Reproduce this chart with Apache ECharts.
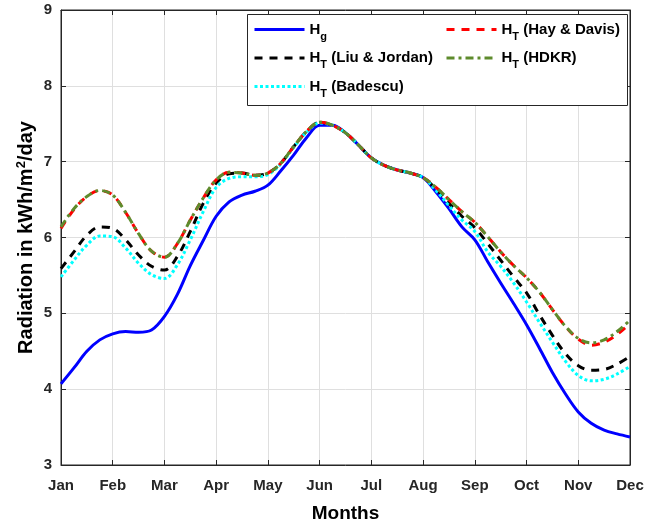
<!DOCTYPE html>
<html><head><meta charset="utf-8">
<script src="https://cdn.jsdelivr.net/npm/echarts@6/dist/echarts.min.js"></script>
<style>html,body{margin:0;padding:0;background:#fff}#c{width:660px;height:523px}</style>
</head><body><div id="c"></div>
<script>
const months = ['Jan','Feb','Mar','Apr','May','Jun','Jul','Aug','Sep','Oct','Nov','Dec'];
const xPos = [1,1.25,1.5,1.75,2,2.25,2.5,2.75,3,3.25,3.5,3.75,4,4.25,4.5,4.75,5,5.25,5.5,5.75,6,6.25,6.5,6.75,7,7.25,7.5,7.75,8,8.25,8.5,8.75,9,9.25,9.5,9.75,10,10.25,10.5,10.75,11,11.25,11.5,11.75,12];
const hg = [4.07,4.28,4.50,4.65,4.73,4.76,4.75,4.78,4.96,5.25,5.63,5.96,6.28,6.47,6.56,6.61,6.69,6.88,7.09,7.32,7.48,7.48,7.38,7.22,7.05,6.95,6.89,6.85,6.79,6.60,6.38,6.14,5.97,5.68,5.40,5.13,4.85,4.54,4.22,3.94,3.70,3.55,3.46,3.41,3.37];
const htLiuJordan = [5.59,5.81,6.03,6.14,6.12,5.97,5.77,5.62,5.57,5.75,6.08,6.45,6.72,6.84,6.85,6.82,6.85,6.98,7.20,7.40,7.52,7.48,7.38,7.22,7.05,6.95,6.89,6.85,6.79,6.64,6.45,6.28,6.13,5.92,5.70,5.48,5.27,4.98,4.71,4.47,4.31,4.25,4.26,4.33,4.43];
const htBadescu = [5.48,5.70,5.90,6.02,6.01,5.86,5.66,5.51,5.46,5.64,5.97,6.34,6.66,6.78,6.80,6.80,6.83,6.97,7.19,7.39,7.51,7.48,7.38,7.22,7.05,6.95,6.89,6.85,6.79,6.62,6.42,6.23,6.08,5.81,5.62,5.40,5.15,4.88,4.62,4.37,4.18,4.11,4.13,4.20,4.30];
const htHayDavis = [6.12,6.37,6.54,6.62,6.56,6.33,6.05,5.82,5.74,5.92,6.23,6.52,6.76,6.86,6.85,6.82,6.85,6.98,7.20,7.40,7.52,7.48,7.38,7.22,7.05,6.95,6.89,6.85,6.79,6.66,6.50,6.34,6.20,6.01,5.81,5.63,5.47,5.28,5.05,4.83,4.66,4.58,4.62,4.72,4.87];
const htHDKR = [6.14,6.38,6.54,6.62,6.56,6.33,6.05,5.82,5.74,5.92,6.23,6.52,6.76,6.86,6.85,6.82,6.85,6.98,7.20,7.40,7.52,7.48,7.38,7.22,7.05,6.95,6.89,6.85,6.79,6.66,6.50,6.34,6.20,6.01,5.81,5.63,5.47,5.28,5.05,4.83,4.67,4.61,4.65,4.76,4.91];
const yTicks = [3,4,5,6,7,8,9];
const seriesNames = ['Hg','HT (Liu & Jordan)','HT (Badescu)','HT (Hay & Davis)','HT (HDKR)'];
const legendRich = {
  'Hg': '{b|H}{s|g}',
  'HT (Liu & Jordan)': '{b|H}{s|T}{b| (Liu & Jordan)}',
  'HT (Badescu)': '{b|H}{s|T}{b| (Badescu)}',
  'HT (Hay & Davis)': '{b|H}{s|T}{b| (Hay & Davis)}',
  'HT (HDKR)': '{b|H}{s|T}{b| (HDKR)}'
};

const FONT = '"Liberation Sans", Arial, Helvetica, sans-serif';
const pair = ys => xPos.map((x, i) => [x, ys[i]]);
const rich = {
  b: {fontFamily: FONT, fontWeight: 'bold', fontSize: 15, color: '#000', verticalAlign: 'middle'},
  s: {fontFamily: FONT, fontWeight: 'bold', fontSize: 11, color: '#000', padding: [14, 0, 0, 0]}
};
const legendBase = {
  orient: 'vertical', itemWidth: 50, itemHeight: 14, itemGap: 8.5, selectedMode: false, padding: 0,
  itemStyle: {opacity: 0, borderWidth: 0}, lineStyle: {width: 3},
  formatter: n => legendRich[n], textStyle: {rich: rich}, z: 10
};
const axisCol = '#262626';
const mkLine = (name, data, color, type, z) => ({
  name, type: 'line', data: pair(data), smooth: 0.35, symbol: 'none', z,
  lineStyle: {color, width: 3, type}, itemStyle: {color}
});

const chart = echarts.init(document.getElementById('c'));
chart.setOption({
  animation: false,
  backgroundColor: '#fff',
  grid: {left: 61, right: 30, top: 10, bottom: 58, outerBoundsMode: 'none', show: true, borderColor: axisCol, borderWidth: 1},
  xAxis: [{
    type: 'value', min: 1, max: 12, interval: 1,
    name: 'Months', nameLocation: 'middle', nameGap: 39, nameMoveOverlap: false,
    nameTextStyle: {fontFamily: FONT, fontWeight: 'bold', fontSize: 19, color: '#000'},
    axisLine: {lineStyle: {color: axisCol}}, axisTick: {inside: true, length: 5, lineStyle: {color: axisCol}},
    axisLabel: {formatter: v => months[Math.round(v) - 1], fontFamily: FONT, fontWeight: 'bold', fontSize: 15, color: axisCol, margin: 13},
    splitLine: {show: true, lineStyle: {color: '#dfdfdf', width: 1}}
  }, {
    type: 'value', min: 1, max: 12, interval: 1, position: 'top',
    axisLine: {lineStyle: {color: axisCol}}, axisTick: {inside: true, length: 5, lineStyle: {color: axisCol}},
    axisLabel: {show: false}, splitLine: {show: false}
  }],
  yAxis: [{
    type: 'value', min: yTicks[0], max: yTicks[yTicks.length - 1], interval: 1,
    name: 'Radiation in kWh/m{sup|2}/day', nameLocation: 'middle', nameGap: 23, nameMoveOverlap: false,
    nameTextStyle: {fontFamily: FONT, fontWeight: 'bold', fontSize: 20, color: '#000',
      rich: {sup: {fontFamily: FONT, fontWeight: 'bold', fontSize: 13, color: '#000', padding: [0, 0, 10, 0]}}},
    axisLine: {show: true, lineStyle: {color: axisCol}}, axisTick: {show: true, inside: true, length: 5, lineStyle: {color: axisCol}},
    axisLabel: {fontFamily: FONT, fontWeight: 'bold', fontSize: 15, color: axisCol, margin: 9},
    splitLine: {show: true, lineStyle: {color: '#dfdfdf', width: 1}}
  }, {
    type: 'value', min: yTicks[0], max: yTicks[yTicks.length - 1], interval: 1, position: 'right',
    axisLine: {show: true, lineStyle: {color: axisCol}}, axisTick: {show: true, inside: true, length: 5, lineStyle: {color: axisCol}},
    axisLabel: {show: false}, splitLine: {show: false}
  }],
  graphic: [{
    type: 'rect', left: 247, top: 14, z: 8,
    shape: {width: 380, height: 91},
    style: {fill: '#fff', stroke: axisCol, lineWidth: 1}
  }],
  legend: [
    Object.assign({}, legendBase, {data: [seriesNames[0], seriesNames[1], seriesNames[2]], left: 253, top: 22}),
    Object.assign({}, legendBase, {data: [seriesNames[3], seriesNames[4]], left: 445, top: 22})
  ],
  series: [
    mkLine(seriesNames[0], hg, '#0000ff', 'solid', 2),
    mkLine(seriesNames[1], htLiuJordan, '#000000', [8, 7], 3),
    mkLine(seriesNames[2], htBadescu, '#00ffff', [3, 2.5], 4),
    mkLine(seriesNames[3], htHayDavis, '#ff0000', [8, 7], 5),
    mkLine(seriesNames[4], htHDKR, '#5e8b2c', [8, 4, 3, 4], 6)
  ]
});
</script></body></html>
